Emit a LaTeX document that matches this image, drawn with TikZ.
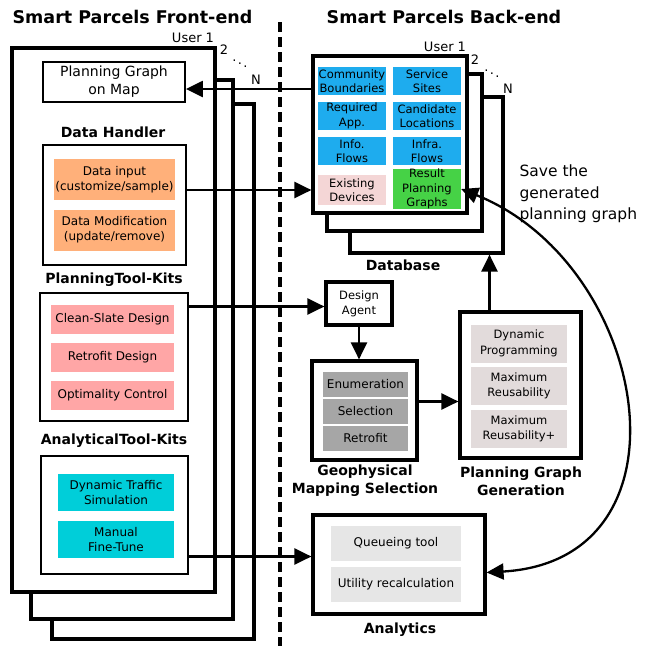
\documentclass[tikz,border=0pt]{standalone}
\usepackage{fontspec}
\setmainfont{DejaVu Sans}
\usetikzlibrary{arrows.meta}

\definecolor{orangebox}{RGB}{255,176,122}
\definecolor{pinkbox}{RGB}{255,166,166}
\definecolor{cyanbox}{RGB}{0,206,217}
\definecolor{bluebox}{RGB}{30,172,238}
\definecolor{devpink}{RGB}{244,214,214}
\definecolor{greenbox}{RGB}{70,210,70}
\definecolor{graybox}{RGB}{166,166,166}
\definecolor{pggbox}{RGB}{226,219,219}
\definecolor{anabox}{RGB}{230,230,230}

\begin{document}
\begin{tikzpicture}[x=1pt,y=-1pt,
    frame/.style={draw,fill=white,line width=3.2pt,inner sep=0pt},
    thinframe/.style={draw,fill=white,line width=1.8pt,inner sep=0pt},
    item/.style={inner sep=0pt,align=center,font=\fontsize{12}{15}\selectfont},
    head/.style={font=\bfseries\fontsize{14}{18}\selectfont,align=center},
    title/.style={font=\bfseries\fontsize{17.5}{20}\selectfont},
    user/.style={font=\fontsize{13}{15}\selectfont},
    arr/.style={line width=2.3pt,-{Triangle[length=17pt,width=16pt]}}]
  \useasboundingbox (0,0) rectangle (645,646);

  \node[title] (fetitle) at (132.5,17) {Smart Parcels Front-end};
  \node[title] (betitle) at (444,17) {Smart Parcels Back-end};
  \draw[line width=3.2pt, dash pattern=on 10pt off 5pt] (280,22) -- (280,646);

  \node[frame, minimum width=202pt, minimum height=535pt] (fe3) at (153,371.5) {};
  \node[frame, minimum width=202pt, minimum height=539pt] (fe2) at (132,349.5) {};
  \node[frame, minimum width=203pt, minimum height=544pt] (fe1) at (113.5,320) {};
  \node[user] (feu1) at (193,38) {User 1};
  \node[user] (feu2) at (224,50) {2};
  \node[user] (fedots) at (240,61) {$\ddots$};
  \node[user] (feun) at (256,80) {N};

  \node[thinframe, minimum width=142pt, minimum height=40pt, align=center,
    font=\fontsize{14}{18}\selectfont] (map) at (114,82) {Planning Graph\\on Map};

  \node[head] (dhhead) at (113,132) {Data Handler};
  \node[thinframe, minimum width=143pt, minimum height=120pt] (dh) at (114.5,205) {};
  \foreach \n/\y/\t in {din/179.5/{Data input\\(customize/sample)},
                        dmod/230/{Data Modification\\(update/remove)}}{
    \node[item, fill=orangebox, minimum width=121pt, minimum height=41pt] (\n) at (114.5,\y) {\t};
  }

  \node[head] (planhead) at (114,280) {PlanningTool-Kits};
  \node[thinframe, minimum width=148pt, minimum height=128pt] (plan) at (114,357) {};
  \foreach \n/\y/\t in {cs/319.5/Clean-Slate Design, rd/357.5/Retrofit Design,
                        oc/395.5/Optimality Control}{
    \node[item, fill=pinkbox, minimum width=123pt, minimum height=29pt] (\n) at (112.5,\y) {\t};
  }

  \node[head] (atkhead) at (114,441) {AnalyticalTool-Kits};
  \node[thinframe, minimum width=147pt, minimum height=118pt] (atk) at (114.5,515) {};
  \foreach \n/\y/\t in {dts/492.5/{Dynamic Traffic\\Simulation}, mft/539.5/{Manual\\Fine-Tune}}{
    \node[item, fill=cyanbox, minimum width=116pt, minimum height=37pt] (\n) at (116,\y) {\t};
  }

  \node[frame, minimum width=153pt, minimum height=156pt] (db3) at (426.5,175) {};
  \node[frame, minimum width=155pt, minimum height=157pt] (db2) at (404.5,152.5) {};
  \node[frame, minimum width=154pt, minimum height=157pt] (db1) at (390,134.5) {};
  \node[user] (beu1) at (445,47) {User 1};
  \node[user] (beu2) at (475,60) {2};
  \node[user] (bedots) at (492,71) {$\ddots$};
  \node[user] (beun) at (508,89) {N};

  \foreach \n/\x/\y/\t in {cb/352/81/{Community\\Boundaries}, ss/427/81/{Service\\Sites},
                           ra/352/116/{Required\\App.}, cl/427/116/{Candidate\\Locations},
                           inf/352/151/{Info.\\Flows}, iff/427/151/{Infra.\\Flows}}{
    \node[item, fill=bluebox, font=\fontsize{11.5}{14.5}\selectfont,
      minimum width=68pt, minimum height=28pt] (\n) at (\x,\y) {\t};
  }
  \node[item, fill=devpink, font=\fontsize{11.5}{14.5}\selectfont,
    minimum width=68pt, minimum height=30pt] (dev) at (352,190) {Existing\\Devices};
  \node[item, fill=greenbox, font=\fontsize{11.5}{14.5}\selectfont,
    minimum width=68pt, minimum height=40pt] (res) at (427,189) {Result\\Planning\\Graphs};
  \node[head] (dbhead) at (403,265) {Database};

  \node[frame, minimum width=66pt, minimum height=43pt, align=center,
    font=\fontsize{11.5}{15}\selectfont] (agent) at (359,303.5) {Design\\Agent};

  \node[frame, minimum width=105pt, minimum height=99pt] (geo) at (364.5,410.5) {};
  \foreach \n/\y/\t in {enu/384.5/Enumeration, sel/411.5/Selection, ret/438.5/Retrofit}{
    \node[item, fill=graybox, minimum width=85pt, minimum height=25pt] (\n) at (365.5,\y) {\t};
  }
  \node[head] (geohead) at (365,481) {Geophysical\\Mapping Selection};

  \node[frame, minimum width=121pt, minimum height=146pt] (pgg) at (520.5,385) {};
  \foreach \n/\y/\t in {dp/343.5/{Dynamic\\Programming}, mr/386/{Maximum\\Reusability},
                        mrp/429/{Maximum\\Reusability+}}{
    \node[item, fill=pggbox, font=\fontsize{11.5}{15.5}\selectfont,
      minimum width=96pt, minimum height=38pt] (\n) at (519,\y) {\t};
  }
  \node[head] (pgghead) at (521,481) {Planning Graph\\Generation};

  \node[frame, minimum width=172pt, minimum height=99pt] (ana) at (399,564.5) {};
  \foreach \n/\y/\t in {qt/543.5/Queueing tool, ur/584.5/Utility recalculation}{
    \node[item, fill=anabox, minimum width=130pt, minimum height=35pt] (\n) at (396,\y) {\t};
  }
  \node[head] (anahead) at (400,630) {Analytics};

  \node[anchor=west, align=left, font=\fontsize{15.5}{21.5}\selectfont] (save) at (516,194)
    {Save the\\generated\\planning graph};

  \draw[arr] ([yshift=-7pt]map.east -| db1.west) -- ([yshift=-7pt]map.east);
  \draw[arr] (dev.west -| dh.east) -- (dev.west -| db1.west);
  \draw[arr] ([yshift=-3pt]agent.west -| plan.east) -- ([yshift=-3pt]agent.west);
  \draw[arr] (agent.south) -- (agent.south |- geo.north);
  \draw[arr] ([yshift=9pt]geo.east) -- ([yshift=9pt]geo.east -| pgg.west);
  \draw[arr] ([xshift=-31pt]pgg.north) -- ([xshift=-31pt]pgg.north |- db3.south);
  \draw[arr] ([yshift=8pt]ana.west -| atk.east) -- ([yshift=8pt]ana.west);
  \draw[line width=2.3pt, {Triangle[length=17pt,width=16pt]}-{Triangle[length=17pt,width=16pt]}]
    (res.east) .. controls (650,265) and (700,560) .. ([yshift=-8pt]ana.east);
\end{tikzpicture}
\end{document}
